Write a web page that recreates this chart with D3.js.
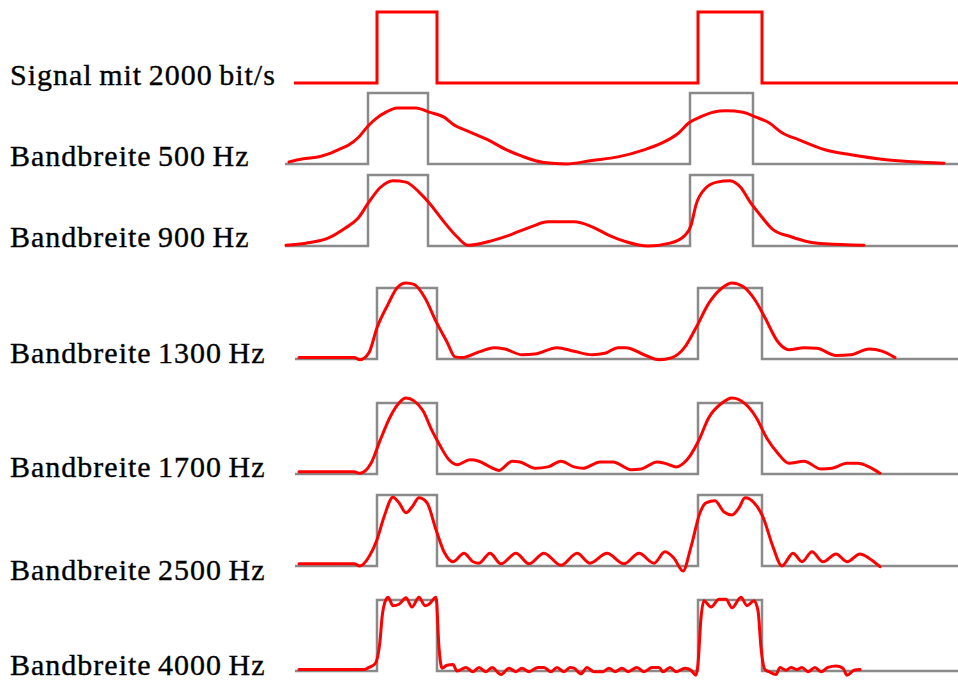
<!DOCTYPE html>
<html>
<head>
<meta charset="utf-8">
<script src="https://cdn.jsdelivr.net/npm/d3@7"></script>
<style>
  html, body { margin: 0; padding: 0; background: #fff; }
  svg { display: block; }
  .label { font-family: "Liberation Serif", "Times New Roman", serif; font-size: 30px; fill: #000; stroke: #000; stroke-width: 0.35px; letter-spacing: 1px; word-spacing: -2px; }
</style>
</head>
<body>
<svg id="chart" width="958" height="683"></svg>
<script>
// ---------------- DATA ----------------
// time in ms, amplitude 0 (low) .. 1 (high)
const labels = [
  "Signal mit 2000 bit/s",
  "Bandbreite 500 Hz",
  "Bandbreite 900 Hz",
  "Bandbreite 1300 Hz",
  "Bandbreite 1700 Hz",
  "Bandbreite 2500 Hz",
  "Bandbreite 4000 Hz"
];

const timeDomain = [0, 6.73];

// signal pulses [start, end] in ms
const signalStart = 0.09;
const signalEnd = 6.73;
const signalPulses = [[0.92, 1.52], [4.13, 4.77]];

// grey reference pulses (rows 500 / 900 Hz are drawn slightly shifted)
const refStartA = 0.0;
const refPulsesA = [[0.83, 1.43], [4.05, 4.68]];
const refStartB = 0.10;
const refPulsesB = [[0.92, 1.52], [4.13, 4.77]];
const refEnd = 6.73;

const bw500 = [
  [0.04,0.03],[0.17,0.07],[0.36,0.11],[0.47,0.16],[0.53,0.20],[0.64,0.27],[0.73,0.37],
  [0.84,0.55],[0.92,0.65],[1.01,0.73],[1.12,0.79],[1.31,0.79],[1.44,0.73],[1.59,0.66],
  [1.68,0.56],[1.85,0.45],[2.03,0.34],[2.20,0.21],[2.37,0.11],[2.59,0.02],[2.81,0.0],
  [3.07,0.05],[3.33,0.10],[3.59,0.20],[3.76,0.29],[3.93,0.43],[4.04,0.58],[4.15,0.66],
  [4.28,0.73],[4.41,0.75],[4.58,0.73],[4.71,0.66],[4.84,0.58],[4.97,0.44],[5.14,0.34],
  [5.40,0.20],[5.66,0.13],[6.01,0.06],[6.27,0.03],[6.59,0.01]
];

const bw900 = [
  [0.01,0.01],[0.21,0.04],[0.43,0.11],[0.60,0.25],[0.73,0.39],[0.84,0.62],[0.95,0.82],
  [1.08,0.92],[1.21,0.90],[1.34,0.76],[1.44,0.61],[1.59,0.34],[1.72,0.13],[1.83,0.01],
  [2.03,0.06],[2.24,0.15],[2.46,0.27],[2.63,0.34],[2.89,0.34],[3.07,0.27],[3.24,0.15],
  [3.41,0.06],[3.63,0.0],[3.85,0.04],[4.00,0.15],[4.06,0.29],[4.11,0.58],[4.21,0.82],
  [4.32,0.90],[4.45,0.92],[4.56,0.82],[4.65,0.62],[4.75,0.44],[4.88,0.23],[5.06,0.13],
  [5.23,0.06],[5.40,0.03],[5.79,0.01]
];

const bw1300 = [
  [0.14,0.02],[0.69,0.02],[0.75,-0.01],[0.84,0.09],[0.92,0.44],[1.03,0.77],[1.12,1.00],
  [1.21,1.07],[1.29,1.05],[1.40,0.86],[1.51,0.53],[1.62,0.24],[1.70,0.03],[1.77,0.02],
  [1.94,0.10],[2.09,0.16],[2.20,0.14],[2.37,0.06],[2.50,0.07],[2.72,0.16],[2.89,0.11],
  [3.07,0.06],[3.20,0.08],[3.33,0.16],[3.41,0.16],[3.59,0.06],[3.74,-0.01],[3.87,0.02],
  [4.00,0.17],[4.11,0.44],[4.24,0.79],[4.37,1.00],[4.47,1.07],[4.58,1.02],[4.71,0.81],
  [4.80,0.58],[4.93,0.24],[5.04,0.13],[5.19,0.16],[5.32,0.15],[5.51,0.05],[5.66,0.06],
  [5.84,0.14],[5.97,0.11],[6.10,0.02]
];

const bw1700 = [
  [0.14,0.03],[0.69,0.03],[0.75,0.01],[0.86,0.15],[0.95,0.47],[1.05,0.80],[1.14,1.00],
  [1.21,1.07],[1.29,1.03],[1.38,0.89],[1.47,0.61],[1.55,0.40],[1.64,0.20],[1.72,0.13],
  [1.85,0.20],[1.94,0.18],[2.05,0.10],[2.14,0.05],[2.27,0.18],[2.35,0.17],[2.50,0.08],
  [2.63,0.10],[2.76,0.18],[2.89,0.10],[2.98,0.08],[3.15,0.17],[3.28,0.17],[3.46,0.06],
  [3.56,0.07],[3.72,0.17],[3.80,0.15],[3.91,0.10],[4.02,0.20],[4.13,0.45],[4.24,0.80],
  [4.37,1.00],[4.47,1.07],[4.60,0.99],[4.71,0.80],[4.82,0.50],[4.93,0.29],[5.04,0.15],
  [5.19,0.18],[5.36,0.07],[5.47,0.08],[5.62,0.15],[5.73,0.15],[5.84,0.10],[5.95,0.01]
];

const bw2500 = [
  [0.14,0.03],[0.69,0.03],[0.75,0.0],[0.84,0.13],[0.92,0.37],[0.99,0.69],[1.08,0.97],
  [1.14,0.89],[1.21,0.75],[1.27,0.83],[1.34,0.96],[1.42,0.89],[1.51,0.51],[1.59,0.20],
  [1.68,0.06],[1.79,0.18],[1.88,0.06],[1.94,0.04],[2.05,0.18],[2.16,0.03],[2.31,0.18],
  [2.44,0.03],[2.59,0.18],[2.76,0.01],[2.92,0.18],[3.05,0.04],[3.22,0.18],[3.39,0.03],
  [3.54,0.18],[3.69,0.04],[3.80,0.20],[3.89,0.11],[3.98,-0.07],[4.06,0.27],[4.15,0.75],
  [4.21,0.89],[4.30,0.92],[4.39,0.76],[4.47,0.72],[4.54,0.82],[4.60,0.96],[4.69,0.89],
  [4.78,0.69],[4.88,0.27],[4.97,0.0],[5.08,0.18],[5.17,0.06],[5.27,0.20],[5.38,0.06],
  [5.51,0.17],[5.62,0.06],[5.75,0.17],[5.84,0.11],[5.95,-0.01]
];

const bw4000 = [
  [0.14,0.02],[0.79,0.02],[0.84,0.05],[0.90,0.10],[0.95,0.42],[0.97,0.75],[1.01,1.01],
  [1.03,1.04],[1.08,0.92],[1.14,0.94],[1.21,1.03],[1.27,0.90],[1.34,1.04],[1.40,0.92],
  [1.44,0.94],[1.51,1.04],[1.54,0.33],[1.57,0.04],[1.62,0.08],[1.68,0.09],[1.72,0.00],
  [1.81,0.05],[1.88,-0.01],[1.94,0.05],[2.01,-0.01],[2.07,0.05],[2.16,-0.05],[2.24,0.04],
  [2.31,-0.01],[2.37,0.04],[2.44,-0.01],[2.53,0.05],[2.59,0.05],[2.66,-0.01],[2.72,0.05],
  [2.79,-0.01],[2.85,0.05],[2.89,0.04],[2.96,-0.04],[3.02,0.05],[3.09,-0.01],[3.18,-0.01],
  [3.24,0.04],[3.30,-0.01],[3.37,0.04],[3.43,-0.01],[3.52,0.05],[3.59,-0.01],[3.67,0.05],
  [3.74,0.05],[3.78,-0.01],[3.85,0.05],[3.91,-0.01],[4.00,0.04],[4.06,0.01],[4.11,-0.06],
  [4.13,0.10],[4.16,0.75],[4.19,0.99],[4.26,0.90],[4.34,1.01],[4.41,1.01],[4.47,0.89],
  [4.56,1.04],[4.62,0.92],[4.69,0.99],[4.73,0.85],[4.76,0.33],[4.80,0.02],[4.84,-0.01],
  [4.91,-0.05],[4.95,0.05],[5.01,0.01],[5.06,0.05],[5.12,0.02],[5.17,0.05],[5.23,-0.01],
  [5.30,0.05],[5.36,-0.01],[5.43,0.05],[5.51,0.07],[5.58,0.04],[5.62,-0.06],[5.69,0.01],
  [5.75,0.02]
];

const filtered = [null, bw500, bw900, bw1300, bw1700, bw2500, bw4000];

// ---------------- LAYOUT ----------------
const rowBase = [83, 164, 246, 359, 474, 566, 671];
const rowHeight = 71;
const labelBase = [85, 166, 247, 363, 477, 580, 675];
const labelX = 10;

const svg = d3.select("#chart");
const x = d3.scaleLinear().domain(timeDomain).range([285, 958]);

function squarePoints(start, pulses, end) {
  const pts = [[start, 0]];
  pulses.forEach(([a, b]) => { pts.push([a, 0], [a, 1], [b, 1], [b, 0]); });
  pts.push([end, 0]);
  return pts;
}

labels.forEach((lab, i) => {
  const y = d3.scaleLinear().domain([0, 1]).range([rowBase[i], rowBase[i] - rowHeight]);
  const sq = d3.line().x(d => x(d[0])).y(d => y(d[1]));
  const g = svg.append("g");

  if (i === 0) {
    g.append("path")
      .attr("d", sq(squarePoints(signalStart, signalPulses, signalEnd)))
      .attr("fill", "none").attr("stroke", "#ff0000").attr("stroke-width", 3)
      .attr("stroke-linejoin", "miter");
  } else {
    const ref = i <= 2 ? squarePoints(refStartA, refPulsesA, refEnd)
                       : squarePoints(refStartB, refPulsesB, refEnd);
    g.append("path")
      .attr("d", sq(ref))
      .attr("fill", "none").attr("stroke", "#8a8a8a").attr("stroke-width", 2.5)
      .attr("stroke-linejoin", "miter");
    const curve = d3.line().x(d => x(d[0])).y(d => y(d[1])).curve(d3.curveMonotoneX);
    g.append("path")
      .attr("d", curve(filtered[i]))
      .attr("fill", "none").attr("stroke", "#ff0000").attr("stroke-width", 3)
      .attr("stroke-linejoin", "round").attr("stroke-linecap", "round");
  }

  svg.append("text")
    .attr("class", "label")
    .attr("x", labelX).attr("y", labelBase[i])
    .text(lab);
});
</script>
</body>
</html>
